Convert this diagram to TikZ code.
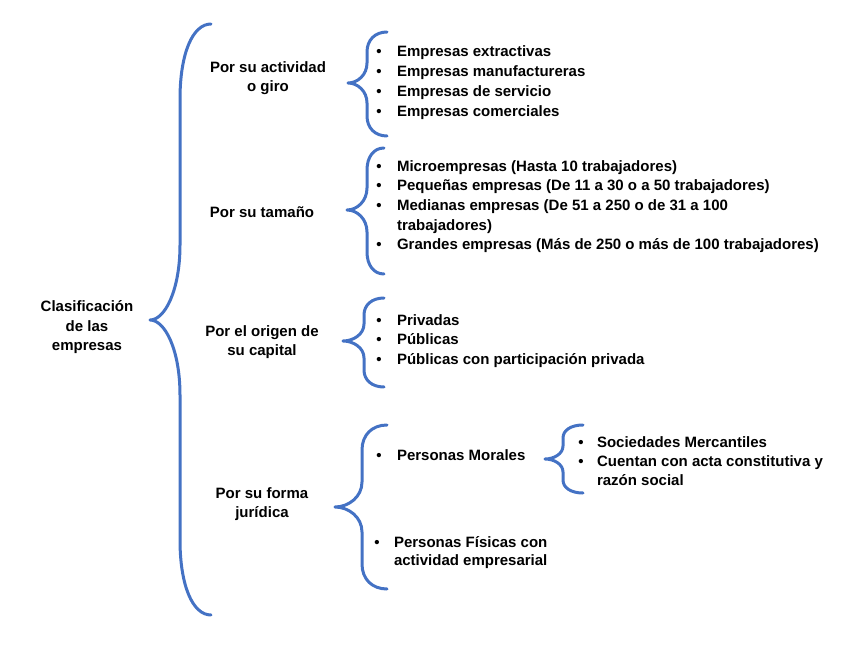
\documentclass[tikz,border=0pt]{standalone}
\usepackage{fontspec}
\setmainfont{Liberation Sans}
\definecolor{bracecol}{HTML}{4472C4}
\tikzset{
  bracepath/.style={draw=bracecol,line width=3pt,line cap=round,line join=round},
  txt/.style={inner sep=0pt,outer sep=0pt,font=\fontsize{15}{20}\selectfont\bfseries,text=black},
  ltxt/.style={txt,anchor=base west},
  ctxt/.style={txt,anchor=base},
  bul/.style={txt,anchor=base},
}
\newcommand\mybrace[7]{% xt yt xv xp yp yb r
  \draw[bracepath] (#1,#2) .. controls ({#3+0.4*(#1-#3)},#2) and (#3,{#2+0.4*#7}) .. (#3,{#2+#7})
    -- (#3,{#5-#7}) .. controls (#3,{#5-0.4*#7}) and ({#4+0.5*(#3-#4)},#5) .. (#4,#5)
    .. controls ({#4+0.5*(#3-#4)},#5) and (#3,{#5+0.4*#7}) .. (#3,{#5+#7})
    -- (#3,{#6-#7}) .. controls (#3,{#6-0.4*#7}) and ({#3+0.4*(#1-#3)},#6) .. (#1,#6);
}
\begin{document}
\begin{tikzpicture}[x=1pt,y=-1pt]
\useasboundingbox (0,0) rectangle (848,655);
% braces
\mybrace{211}{24}{180}{150}{320}{615}{75}
\mybrace{387}{32}{367}{348}{83}{136}{20}
\mybrace{384}{148}{367}{347}{210}{274}{22}
\mybrace{384}{298}{364}{343}{341}{387}{17}
\mybrace{387}{425}{362}{335}{507}{589}{25}
\mybrace{583}{425}{563}{545}{459}{493}{13}
% root
\node[ctxt] (r1) at (87,311) {Clasificación};
\node[ctxt] (r2) at (87,331) {de las};
\node[ctxt] (r3) at (87,350) {empresas};
% categories
\node[ctxt] (a1) at (268,73) {Por su actividad};
\node[ctxt] (a2) at (268,92) {o giro};
\node[ctxt] (t1) at (262,217) {Por su tamaño};
\node[ctxt] (o1) at (262,336) {Por el origen de};
\node[ctxt] (o2) at (262,355) {su capital};
\node[ctxt] (f1) at (262,498) {Por su forma};
\node[ctxt] (f2) at (262,517) {jurídica};
% list 1
\foreach \y/\t [count=\i] in {57/Empresas extractivas,77/Empresas manufactureras,97/Empresas de servicio,117/Empresas comerciales}{
  \node[bul] (b1\i) at (379,\y) {•};
  \node[ltxt] (l1\i) at (397,\y) {\t};
}
% list 2
\node[bul] (b21) at (379,172) {•};
\node[ltxt] (l21) at (397,172) {Microempresas (Hasta 10 trabajadores)};
\node[bul] (b22) at (379,191) {•};
\node[ltxt] (l22) at (397,191) {Pequeñas empresas (De 11 a 30 o a 50 trabajadores)};
\node[bul] (b23) at (379,211) {•};
\node[ltxt] (l23) at (397,211) {Medianas empresas (De 51 a 250 o de 31 a 100};
\node[ltxt] (l24) at (397,230) {trabajadores)};
\node[bul] (b25) at (379,249) {•};
\node[ltxt] (l25) at (397,249) {Grandes empresas (Más de 250 o más de 100 trabajadores)};
% list 3
\node[bul] (b31) at (379,325) {•};
\node[ltxt] (l31) at (397,325) {Privadas};
\node[bul] (b32) at (379,344) {•};
\node[ltxt] (l32) at (397,344) {Públicas};
\node[bul] (b33) at (379,364) {•};
\node[ltxt] (l33) at (397,364) {Públicas con participación privada};
% forma juridica
\node[bul] (b41) at (379,460) {•};
\node[ltxt] (l41) at (397,460) {Personas Morales};
\node[bul] (b42) at (377,547) {•};
\node[ltxt] (l42) at (394,547) {Personas Físicas con};
\node[ltxt] (l43) at (394,565) {actividad empresarial};
% list 5
\node[bul] (b51) at (581,447) {•};
\node[ltxt] (l51) at (597,447) {Sociedades Mercantiles};
\node[bul] (b52) at (581,466) {•};
\node[ltxt] (l52) at (597,466) {Cuentan con acta constitutiva y};
\node[ltxt] (l53) at (597,485) {razón social};
\end{tikzpicture}
\end{document}
